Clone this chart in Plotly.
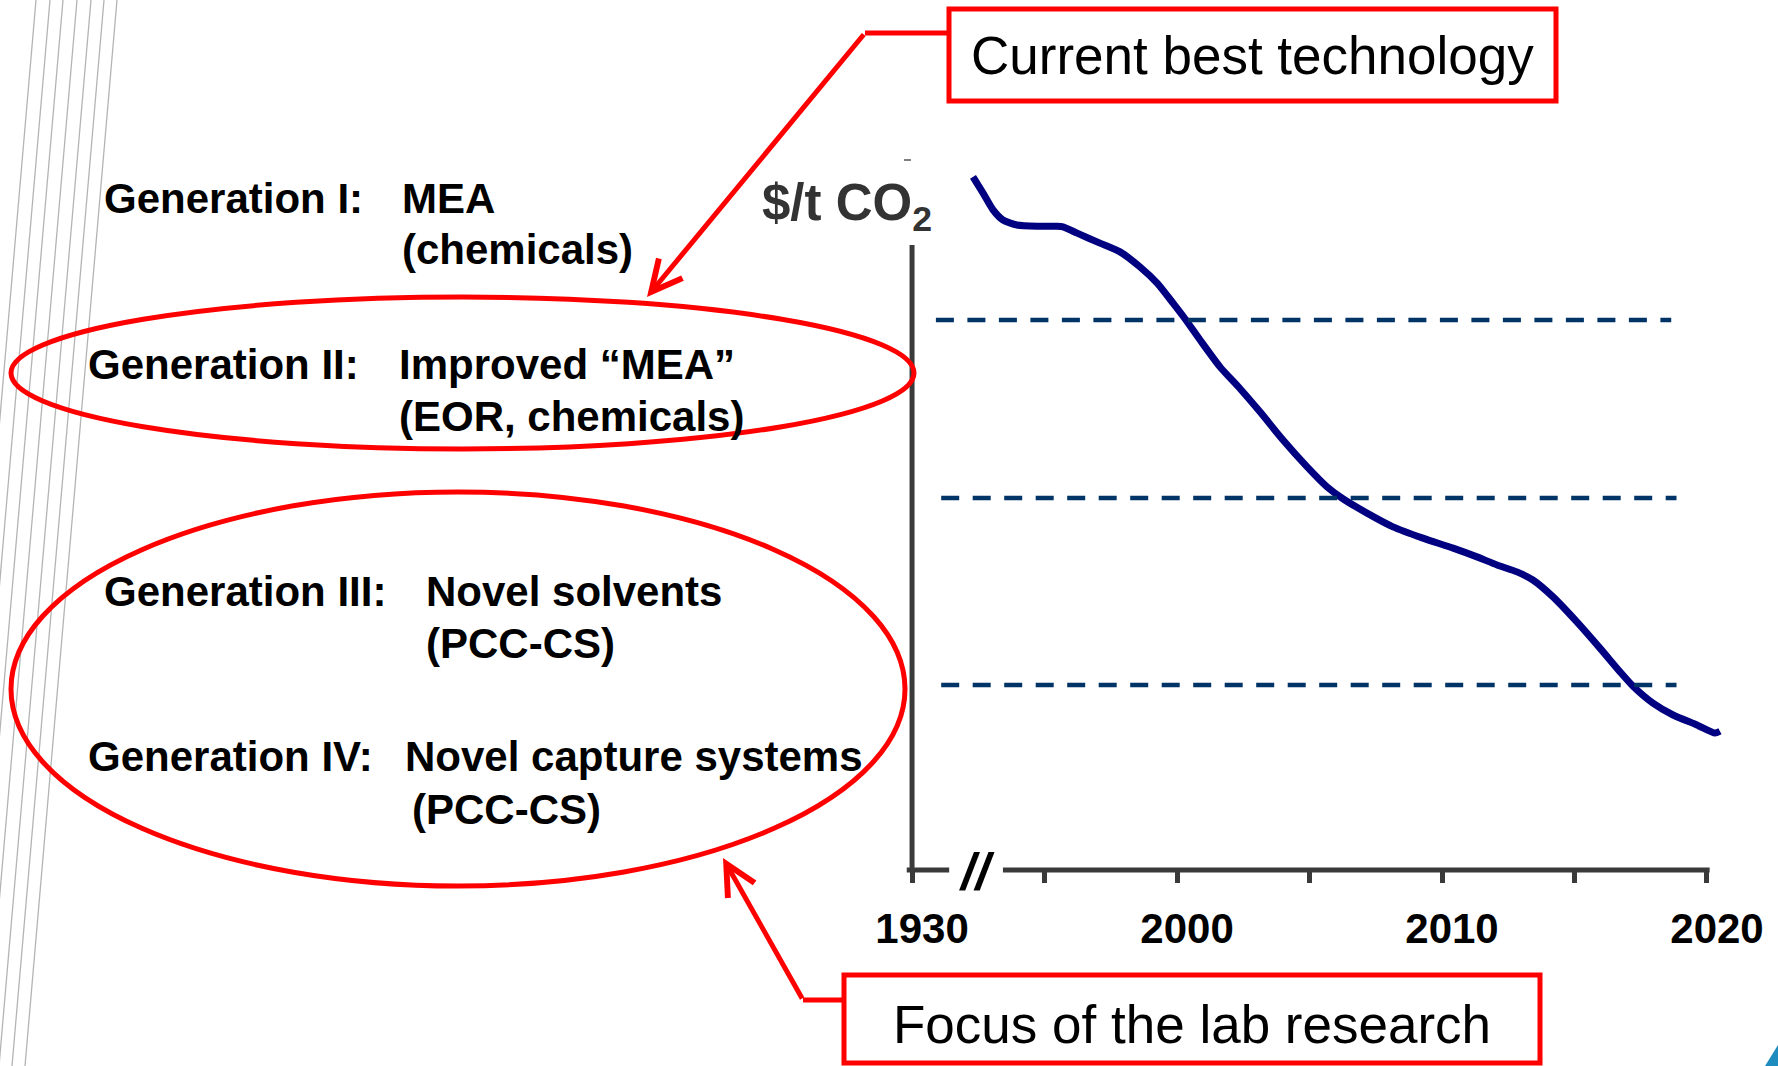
import plotly.graph_objects as go

# ---------------- data ----------------
# x positions on the (broken) time axis; "1930" sits at the axis origin (1990 slot)
curve_x = [1992.30, 1992.68, 1993.06, 1993.43, 1993.96, 1994.72, 1995.47, 1995.70,
           1996.23, 1997.09, 1997.85, 1998.60, 1999.25, 1999.85, 2000.30, 2000.87,
           2001.62, 2002.38, 2003.13, 2004.00, 2004.91, 2005.66, 2006.26, 2007.17,
           2008.15, 2009.28, 2010.42, 2011.32, 2012.08, 2012.83, 2013.43, 2014.19,
           2015.09, 2015.96, 2016.72, 2017.21, 2017.96, 2018.72, 2019.62, 2020.30, 2020.49]
curve_y = [110.9, 108.3, 105.6, 104.0, 103.2, 103.0, 103.0, 102.9,
           101.9, 100.3, 98.9, 96.5, 93.9, 90.7, 88.2, 84.8,
           80.5, 77.0, 73.3, 68.8, 64.5, 61.3, 59.4, 57.1,
           54.9, 53.1, 51.5, 50.1, 48.8, 47.7, 46.4, 43.7,
           39.7, 35.5, 31.7, 29.4, 26.7, 24.8, 23.2, 21.9, 22.2]

ref_levels = [88.0, 59.5, 29.6]
ref_start = [1990.9, 1991.1, 1991.1]
ref_end = [2018.65, 2018.85, 2018.85]

tick_vals = [1990, 1995, 2000, 2005, 2010, 2015, 2020]
tick_text = ["1930", "", "2000", "", "2010", "", "2020"]

gen_labels = ["Generation I:", "Generation II:", "Generation III:", "Generation IV:"]
gen_desc = ["MEA", "Improved \u201cMEA\u201d", "Novel solvents", "Novel capture systems"]
gen_sub = ["(chemicals)", "(EOR, chemicals)", "(PCC-CS)", "(PCC-CS)"]

top_note = "Current best technology"
bottom_note = "Focus of the lab research"

# ---------------- layout helpers ----------------
W, H = 1778, 1066
X_RANGE = [1955.58, 2022.68]
Y_RANGE = [-31.36, 139.2]
FONT = "Liberation Sans, Arial, sans-serif"
RED = "#ff0000"
AXC = "#3a3a3a"


def px(x):
    return x / W


def py(y):
    return 1 - y / H


fig = go.Figure()

# cost curve
fig.add_trace(go.Scatter(x=curve_x, y=curve_y, mode="lines",
                         line=dict(color="#000080", width=7, shape="spline", smoothing=0.6),
                         hoverinfo="skip"))
# dashed reference levels
for lv, s, e in zip(ref_levels, ref_start, ref_end):
    fig.add_trace(go.Scatter(x=[s, e], y=[lv, lv], mode="lines",
                             line=dict(color="#003366", width=4.5, dash="18px,13.5px"),
                             hoverinfo="skip"))

shapes = []
# axis lines (broken x axis)
shapes.append(dict(type="line", xref="x", yref="y", x0=1990, x1=1990, y0=0, y1=100,
                   line=dict(color=AXC, width=5)))
shapes.append(dict(type="line", xref="x", yref="y", x0=1989.8, x1=1991.4, y0=0, y1=0,
                   line=dict(color=AXC, width=5)))
shapes.append(dict(type="line", xref="x", yref="y", x0=1993.43, x1=2020.1, y0=0, y1=0,
                   line=dict(color=AXC, width=5)))
# tiny stray tick at top of the y axis
shapes.append(dict(type="line", xref="paper", yref="paper", x0=px(904), x1=px(911),
                   y0=py(160), y1=py(160), line=dict(color="#555555", width=1.5)))

# decorative diagonal gray lines on the left edge
for xt in [36, 50, 63, 77, 91, 104, 117]:
    shapes.append(dict(type="line", xref="paper", yref="paper", x0=px(xt), y0=py(0),
                       x1=px(xt - 92), y1=py(H), layer="below",
                       line=dict(color="#b4b4b4", width=1.3)))

# red ellipses
shapes.append(dict(type="circle", xref="paper", yref="paper", x0=px(11), x1=px(914),
                   y0=py(449), y1=py(297), line=dict(color=RED, width=5)))
shapes.append(dict(type="circle", xref="paper", yref="paper", x0=px(11), x1=px(905),
                   y0=py(886), y1=py(492), line=dict(color=RED, width=5)))

# red boxes
shapes.append(dict(type="rect", xref="paper", yref="paper", x0=px(949), x1=px(1556),
                   y0=py(101), y1=py(9), line=dict(color=RED, width=5)))
shapes.append(dict(type="rect", xref="paper", yref="paper", x0=px(844), x1=px(1540),
                   y0=py(1063), y1=py(975), line=dict(color=RED, width=5)))

# horizontal legs of the callout arrows
shapes.append(dict(type="line", xref="paper", yref="paper", x0=px(865), x1=px(949),
                   y0=py(33), y1=py(33), line=dict(color=RED, width=5)))
shapes.append(dict(type="line", xref="paper", yref="paper", x0=px(803), x1=px(844),
                   y0=py(1000), y1=py(1000), line=dict(color=RED, width=5)))

# small teal corner
shapes.append(dict(type="path", xref="paper", yref="paper",
                   path=f"M {px(1765)},{py(1066)} L {px(1778)},{py(1045)} L {px(1778)},{py(1066)} Z",
                   fillcolor="#1f8cc0", line=dict(width=0)))

annotations = []
# left text block
gen_y = [198, 364, 591, 756]
gen_x = [102, 86, 102, 86]
desc_x = [400, 397, 424, 403]
sub_x = [400, 397, 424, 410]
sub_y = [249, 416, 643, 809]
for i in range(4):
    annotations.append(dict(x=px(gen_x[i]), y=py(gen_y[i]), xref="paper", yref="paper",
                            text=f"<b>{gen_labels[i]}</b>", showarrow=False,
                            xanchor="left", yanchor="middle",
                            font=dict(family=FONT, size=42, color="black")))
    annotations.append(dict(x=px(desc_x[i]), y=py(gen_y[i]), xref="paper", yref="paper",
                            text=f"<b>{gen_desc[i]}</b>", showarrow=False,
                            xanchor="left", yanchor="middle",
                            font=dict(family=FONT, size=42, color="black")))
    annotations.append(dict(x=px(sub_x[i]), y=py(sub_y[i]), xref="paper", yref="paper",
                            text=f"<b>{gen_sub[i]}</b>", showarrow=False,
                            xanchor="left", yanchor="middle",
                            font=dict(family=FONT, size=42, color="black")))

# axis title
annotations.append(dict(x=px(934), y=py(206), xref="paper", yref="paper",
                        text="<b>$/t CO<sub>2</sub></b>", showarrow=False,
                        xanchor="right", yanchor="middle",
                        font=dict(family=FONT, size=51, color="#333333")))
# axis break mark
annotations.append(dict(x=px(977), y=py(872), xref="paper", yref="paper",
                        text="<b><i>//</i></b>", showarrow=False,
                        xanchor="center", yanchor="middle",
                        font=dict(family=FONT, size=52, color="black")))

# box texts
annotations.append(dict(x=px(1252), y=py(55), xref="paper", yref="paper",
                        text=top_note, showarrow=False, xanchor="center", yanchor="middle",
                        font=dict(family=FONT, size=53, color="black")))
annotations.append(dict(x=px(1192), y=py(1024), xref="paper", yref="paper",
                        text=bottom_note, showarrow=False, xanchor="center", yanchor="middle",
                        font=dict(family=FONT, size=53, color="black")))

# arrows
annotations.append(dict(x=px(647), y=py(297), xref="paper", yref="paper", text="",
                        showarrow=True, ax=218, ay=-264, arrowhead=5, arrowsize=1.2,
                        arrowwidth=5, arrowcolor=RED, standoff=0))
annotations.append(dict(x=px(723), y=py(858), xref="paper", yref="paper", text="",
                        showarrow=True, ax=80, ay=142, arrowhead=5, arrowsize=1.2,
                        arrowwidth=5, arrowcolor=RED, standoff=0))

fig.update_layout(
    width=W, height=H,
    margin=dict(l=0, r=0, t=0, b=0),
    paper_bgcolor="white", plot_bgcolor="white",
    showlegend=False,
    shapes=shapes, annotations=annotations,
    xaxis=dict(range=X_RANGE, anchor="free", position=(H - 870) / H,
               showgrid=False, zeroline=False, showline=False,
               tickmode="array", tickvals=tick_vals,
               ticktext=[f"<b>{t}</b>" if t else "" for t in tick_text],
               ticks="outside", ticklen=12, tickwidth=5, tickcolor=AXC,
               ticklabelshift=10, ticklabelstandoff=10,
               tickfont=dict(family=FONT, size=42, color="black"),
               automargin=False, fixedrange=True),
    yaxis=dict(range=Y_RANGE, visible=False, showgrid=False, zeroline=False,
               automargin=False, fixedrange=True),
)

fig.write_html("out.html", config={"displayModeBar": False, "staticPlot": True},
               post_script="document.body.style.margin='0px';document.body.style.overflow='hidden';")
